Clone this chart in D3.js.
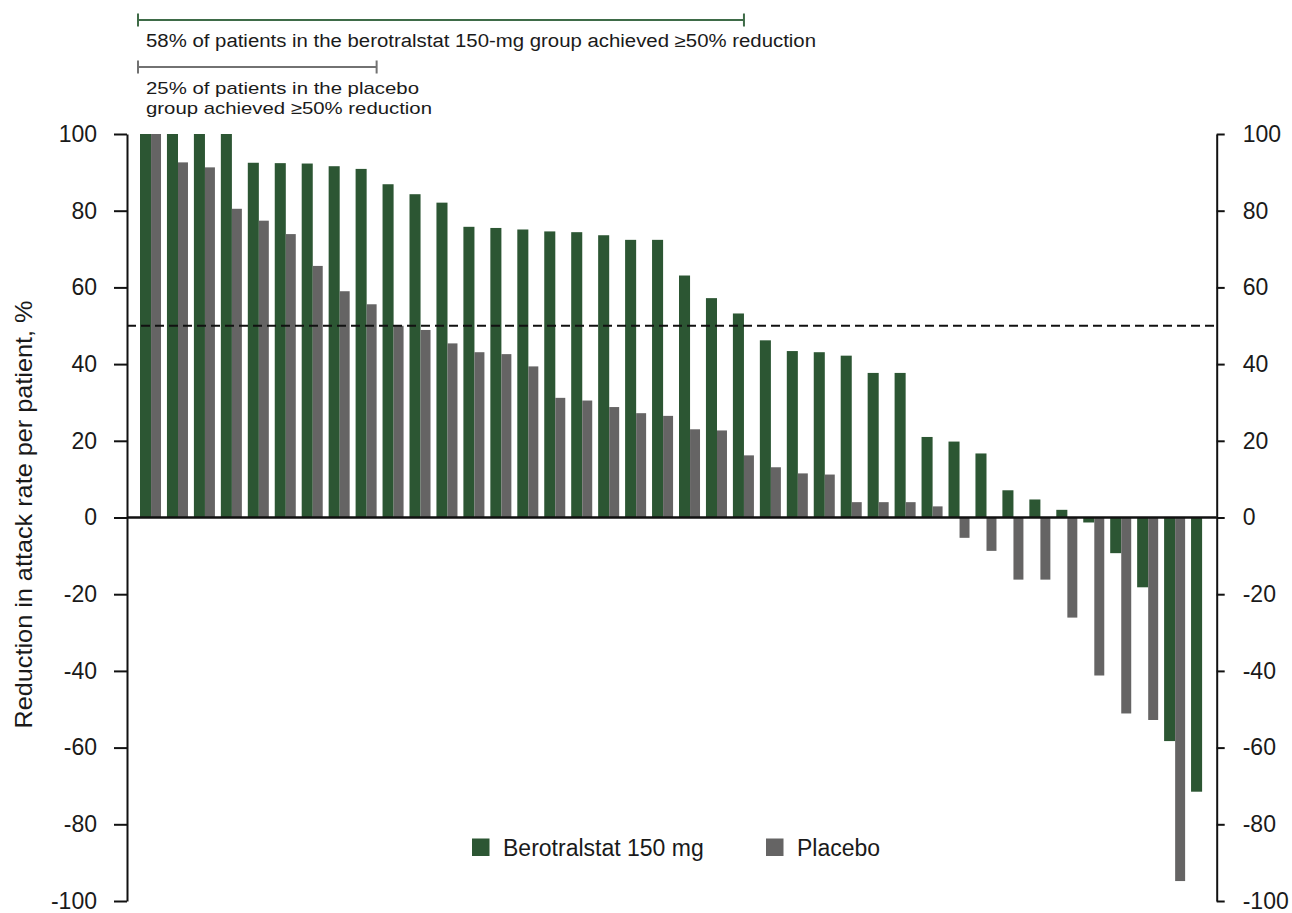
<!DOCTYPE html>
<html>
<head>
<meta charset="utf-8">
<script src="https://cdn.jsdelivr.net/npm/d3@7"></script>
<style>
  html, body { margin: 0; padding: 0; background: #fff; }
  svg { display: block; font-family: "Liberation Sans", Arial, sans-serif; }
</style>
</head>
<body>
<svg id="chart" width="1292" height="913"></svg>
<script>
// ---- data ----
const patientRanks = d3.range(1, 41);
const berotralstat = [100, 100, 100, 100, 92.5, 92.4, 92.3, 91.6, 90.9, 86.9,
  84.3, 82.1, 75.8, 75.5, 75.1, 74.6, 74.4, 73.6, 72.4, 72.4,
  63.1, 57.2, 53.2, 46.2, 43.4, 43.1, 42.2, 37.7, 37.7, 21.0,
  19.8, 16.7, 7.1, 4.7, 2.0, -1.3, -9.3, -18.2, -58.3, -71.5];
const placebo = [100, 92.6, 91.3, 80.5, 77.4, 73.9, 65.6, 59.0, 55.6, 50.0,
  48.9, 45.4, 43.1, 42.6, 39.4, 31.2, 30.5, 28.8, 27.2, 26.5,
  23.0, 22.7, 16.2, 13.1, 11.5, 11.2, 4.0, 4.0, 4.0, 2.9,
  -5.3, -8.7, -16.2, -16.2, -26.1, -41.2, -51.1, -52.8, -94.8];
const yTicks = [-100, -80, -60, -40, -20, 0, 20, 40, 60, 80, 100];
const threshold = 50;
const seriesNames = ["Berotralstat 150 mg", "Placebo"];
const annotationGreen = ["58% of patients in the berotralstat 150-mg group achieved \u226550% reduction"];
const annotationGrey = ["25% of patients in the placebo", "group achieved \u226550% reduction"];
const yLabel = "Reduction in attack rate per patient, %";

// ---- styles ----
const GREEN = "#2c5633";
const GREY = "#656464";
const GREEN_BRACKET = "#3e6b47";
const GREY_BRACKET = "#727272";
const TEXT = "#1a1a1a";

const svg = d3.select("#chart");
const axisLeftX = 127, axisRightX = 1216.7;
const y = d3.scaleLinear().domain([-100, 100]).range([901, 134]);
const x = d3.scaleBand().domain(patientRanks).range([140, 1218]).paddingInner(0).paddingOuter(0);
const step = x.step();
const gw = step * 0.41, pw = step * 0.37;

// bars
svg.append("g").selectAll("rect").data(berotralstat).join("rect")
  .attr("x", (d, i) => x(patientRanks[i]))
  .attr("width", gw)
  .attr("y", d => y(Math.max(0, d)))
  .attr("height", d => Math.abs(y(d) - y(0)))
  .attr("fill", GREEN);

svg.append("g").selectAll("rect").data(placebo).join("rect")
  .attr("x", (d, i) => x(patientRanks[i]) + gw)
  .attr("width", pw)
  .attr("y", d => y(Math.max(0, d)))
  .attr("height", d => Math.abs(y(d) - y(0)))
  .attr("fill", GREY);

// zero line and threshold line
svg.append("line").attr("x1", axisLeftX).attr("x2", axisRightX)
  .attr("y1", y(0)).attr("y2", y(0)).attr("stroke", "#111").attr("stroke-width", 2.5);
svg.append("line").attr("x1", axisLeftX).attr("x2", axisRightX)
  .attr("y1", y(threshold)).attr("y2", y(threshold)).attr("stroke", "#111")
  .attr("stroke-width", 2.2).attr("stroke-dasharray", "9,5");

// axes
const fmt = d => String(d);
const left = svg.append("g").attr("transform", `translate(${axisLeftX},0)`)
  .call(d3.axisLeft(y).tickValues(yTicks).tickSize(13).tickSizeOuter(0).tickPadding(17).tickFormat(fmt));
const right = svg.append("g").attr("transform", `translate(${axisRightX},0)`)
  .call(d3.axisRight(y).tickValues(yTicks).tickSize(8).tickSizeOuter(0).tickPadding(18).tickFormat(fmt));
[left, right].forEach(g => {
  g.selectAll("path.domain").attr("stroke", "#111").attr("stroke-width", 2);
  g.selectAll(".tick line").attr("stroke", "#111").attr("stroke-width", 2);
  g.selectAll(".tick text").attr("fill", TEXT).style("font-size", "23px")
    .style("font-family", '"Liberation Sans", Arial, sans-serif');
});

// y label
svg.append("text")
  .attr("transform", `translate(32,${y(0) - 3}) rotate(-90)`)
  .attr("text-anchor", "middle")
  .attr("fill", TEXT).style("font-size", "24px")
  .attr("textLength", 428).attr("lengthAdjust", "spacingAndGlyphs")
  .text(yLabel);

// brackets
const nGreen = berotralstat.filter(d => d > threshold).length;
const nGrey = placebo.filter(d => d > threshold).length;
const bx0 = x(patientRanks[0]) - 2;
const gx1 = x(patientRanks[nGreen - 1]) + gw;
const px1 = x(patientRanks[nGrey - 1]) + gw + pw;

function bracket(x0, x1, yy, color) {
  const g = svg.append("g").attr("stroke", color).attr("stroke-width", 2);
  g.append("line").attr("x1", x0).attr("x2", x1).attr("y1", yy).attr("y2", yy);
  g.append("line").attr("x1", x0).attr("x2", x0).attr("y1", yy - 6.5).attr("y2", yy + 6.5);
  g.append("line").attr("x1", x1).attr("x2", x1).attr("y1", yy - 6.5).attr("y2", yy + 6.5);
}
bracket(bx0, gx1, 20, GREEN_BRACKET);
bracket(bx0, px1, 67, GREY_BRACKET);

svg.append("text").attr("x", 146).attr("y", 47).attr("fill", TEXT)
  .style("font-size", "18px").attr("textLength", 670).attr("lengthAdjust", "spacingAndGlyphs")
  .text(annotationGreen[0]);
const greyLens = [273, 286];
annotationGrey.forEach((t, i) => {
  svg.append("text").attr("x", 146).attr("y", 94 + i * 20).attr("fill", TEXT)
    .style("font-size", "17px").attr("textLength", greyLens[i]).attr("lengthAdjust", "spacingAndGlyphs")
    .text(t);
});

// legend
const legend = svg.append("g");
const legendItems = [
  { name: seriesNames[0], color: GREEN, x: 472 },
  { name: seriesNames[1], color: GREY, x: 766 }
];
legendItems.forEach(it => {
  legend.append("rect").attr("x", it.x).attr("y", 838.5).attr("width", 17.5).attr("height", 17.5).attr("fill", it.color);
  legend.append("text").attr("x", it.x + 31).attr("y", 856).attr("fill", TEXT)
    .style("font-size", "23px").text(it.name);
});
</script>
</body>
</html>
